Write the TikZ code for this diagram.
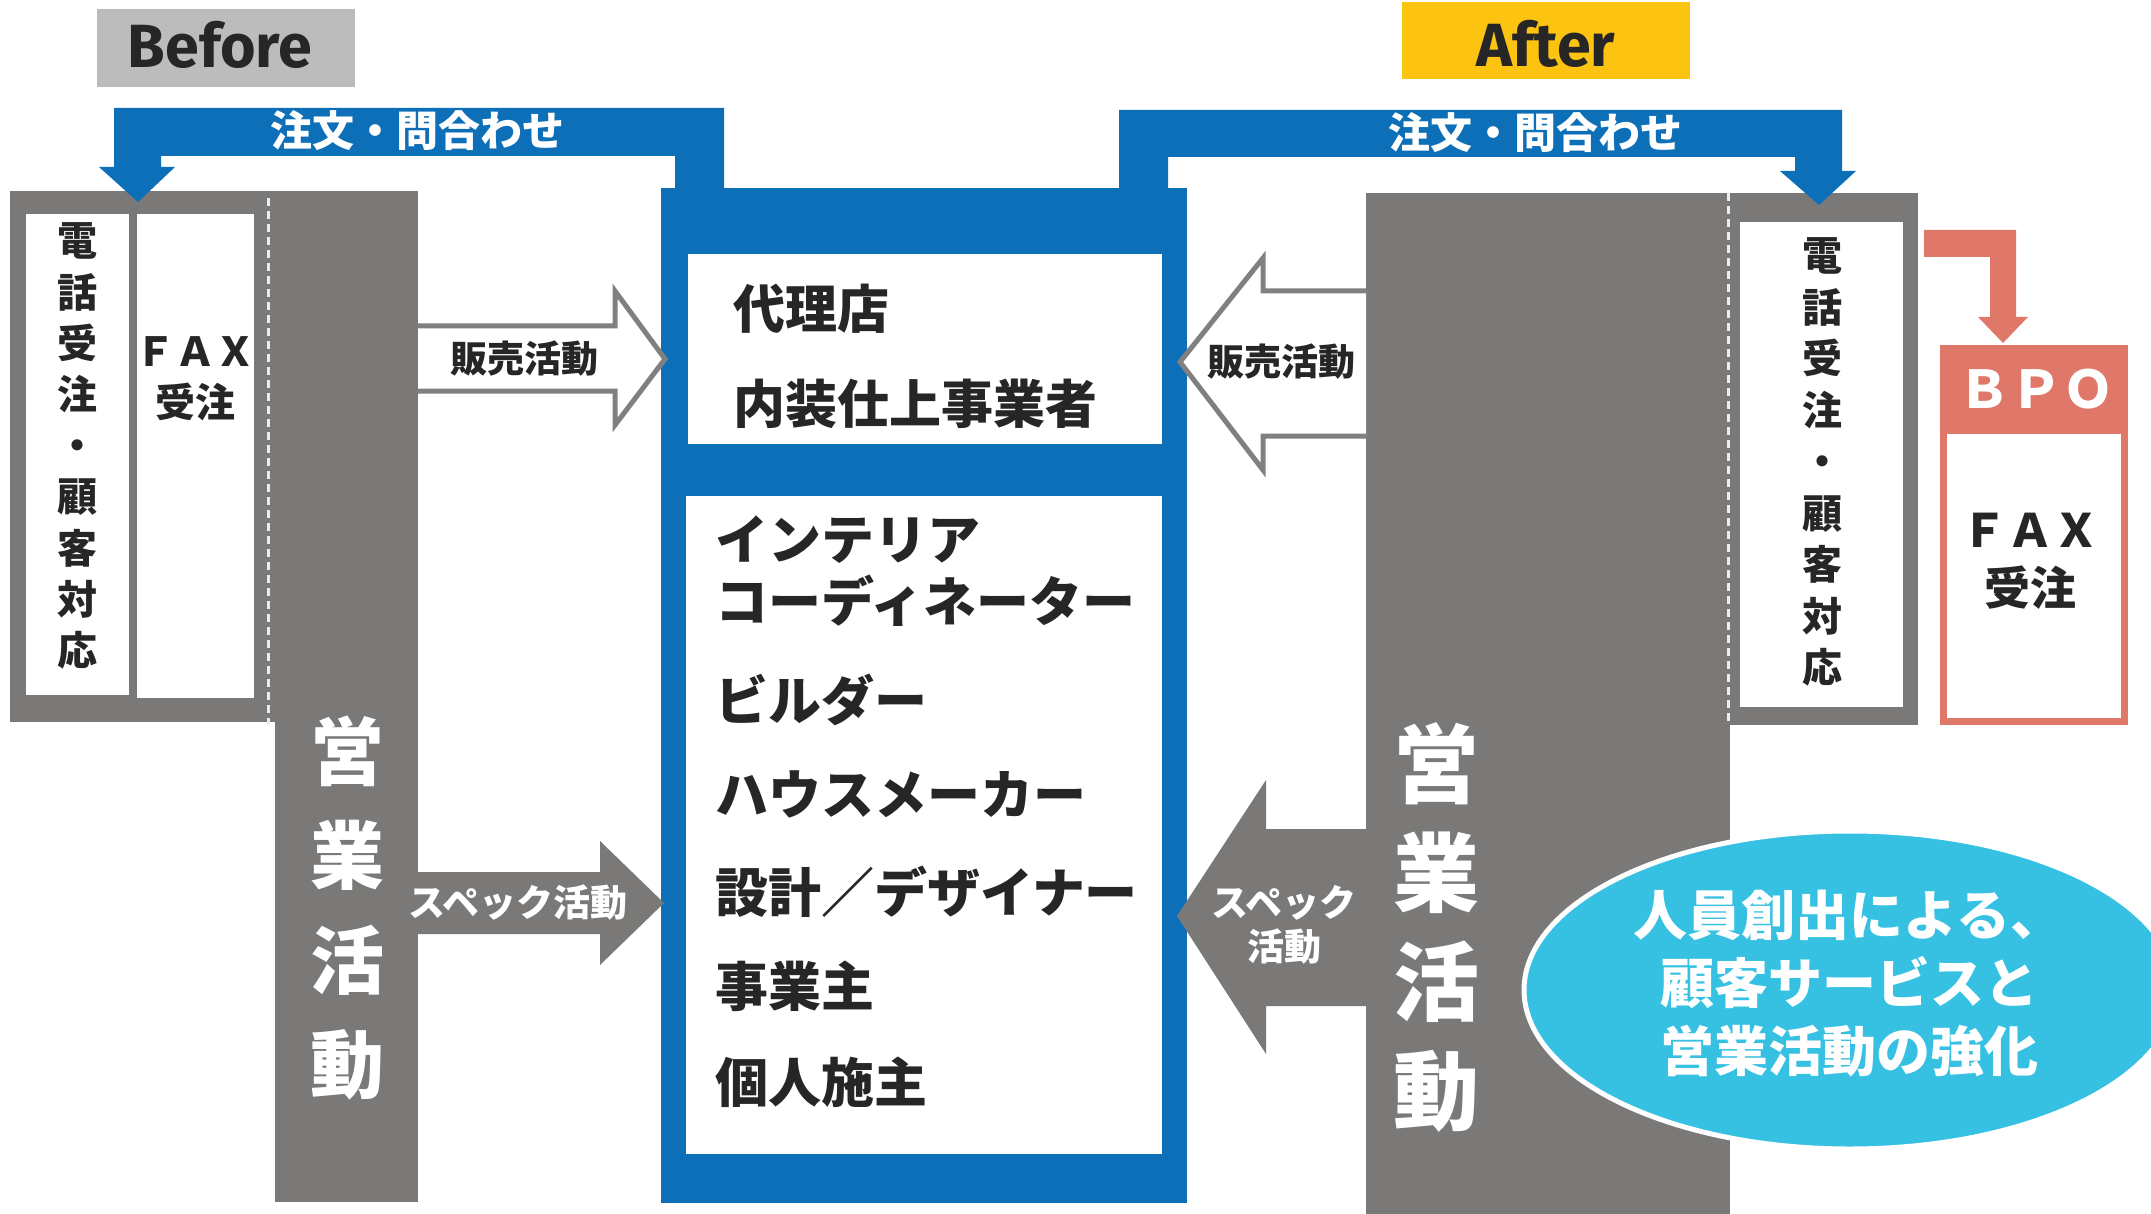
\documentclass[tikz,border=0pt]{standalone}
\usepackage{fontspec}
\newfontfamily\jp{Noto Sans CJK JP}[BoldFont={Noto Sans CJK JP Black}]
\newfontfamily\lat{Fira Sans}
\usetikzlibrary{shapes.geometric,fit}
\definecolor{cblue}{HTML}{0D6FB8}
\definecolor{cgray}{HTML}{7A7978}
\definecolor{cline}{HTML}{808080}
\definecolor{csalmon}{HTML}{E0786A}
\definecolor{ccyan}{HTML}{36C1E3}
\definecolor{cyellow}{HTML}{FDC311}
\definecolor{clight}{HTML}{BBBCBB}
\definecolor{cdark}{HTML}{262626}
\newcommand\jpfs[2]{\jp\bfseries\fontsize{#1}{#2}\selectfont}
\tikzset{
  box/.style={rectangle, inner sep=0, outer sep=0, draw=none},
  txt/.style={inner sep=0, outer sep=0},
  dkt/.style={txt, text=cdark},
  wht/.style={txt, text=white},
  sep/.style={draw=white!85!gray, line width=3, dash pattern=on 8 off 5},
  outarrow/.style={draw=cline, line width=5, fill=white, line join=miter},
}
\begin{document}
\begin{tikzpicture}[x=1pt,y=-1pt]
\useasboundingbox (0,0) rectangle (2151,1214);

% ---------- header labels
\node[box, fill=clight, fit={(97,9) (355,87)}] (beforebox) {};
\node[dkt, font={\lat\bfseries\fontsize{61}{61}\selectfont}] (beforetxt) at (220,45) {Before};
\node[box, fill=cyellow, fit={(1402,2) (1690,79)}] (afterbox) {};
\node[dkt, font={\lat\bfseries\fontsize{61}{61}\selectfont}] (aftertxt) at (1546,44) {After};

% ---------- central hub
\node[box, fill=cblue, fit={(661,188) (1187,1203)}] (hub) {};
\node[box, fill=white, fit={(688,254) (1162,444)}] (upper) {};
\node[box, fill=white, fit={(686,496) (1162,1154)}] (lower) {};
\node[dkt, anchor=west, font=\jpfs{52}{52}] (t1) at (733,309) {代理店};
\node[dkt, anchor=west, font=\jpfs{52}{52}] (t2) at (733,404) {内装仕上事業者};
\node[dkt, anchor=west, font=\jpfs{53}{53}] (c1) at (715,540) {インテリア};
\node[dkt, anchor=west, font=\jpfs{53}{53}] (c2) at (715,601) {コーディネーター};
\node[dkt, anchor=west, font=\jpfs{53}{53}] (c3) at (715,700) {ビルダー};
\node[dkt, anchor=west, font=\jpfs{53}{53}] (c4) at (715,794) {ハウスメーカー};
\node[dkt, anchor=west, font=\jpfs{53}{53}] (c5) at (715,892) {設計／デザイナー};
\node[dkt, anchor=west, font=\jpfs{53}{53}] (c6) at (715,986) {事業主};
\node[dkt, anchor=west, font=\jpfs{53}{53}] (c7) at (715,1082) {個人施主};

% ---------- Before side
\node[box, fill=cgray, fit={(10,191) (276,722)}] (lcall) {};
\node[box, fill=cgray, fit={(275,191) (418,1202)}] (lsales) {};
\draw[sep] (268,198) -- (268,725);
\node[box, fill=white, fit={(26,214) (129,695)}] (lphone) {};
\node[box, fill=white, fit={(137,214) (254,698)}] (lfax) {};
\node[dkt, align=center, font=\jpfs{40}{51.2}] (lphonet) at (77,446) {電\\話\\受\\注\\・\\顧\\客\\対\\応};
\node[dkt, align=center, font=\jpfs{40}{51}] (lfaxt) at (195,379) {ＦＡＸ\\受注};
\node[wht, align=center, font=\jpfs{74}{104.3}] (lsalest) at (347,908) {営\\業\\活\\動};

% Before arrows
\draw[outarrow] (lsales.east |- 0,326) -- (615,326) -- (615,291) -- (665,359) -- (615,425) -- (615,391) -- (lsales.east |- 0,391);
\node[dkt, font=\jpfs{37}{37}] (lsell) at (524,359) {販売活動};
\fill[cgray] (lsales.east |- 0,872) -- (600,872) -- (600,841) -- (664,903) -- (600,965) -- (600,934) -- (lsales.east |- 0,934) -- cycle;
\node[wht, font=\jpfs{37}{37}] (lspec) at (518,903) {スペック活動};

% Before order arrow (hub -> lcall)
\fill[cblue] (675,188) -- (675,156) -- (161,156) -- (161,167) -- (175,167) -- (138,202) -- (99,167) -- (114,167) -- (114,108) -- (724,108) -- (724,188) -- cycle;
\node[wht, font=\jpfs{42}{42}] (lorder) at (417,131) {注文・問合わせ};

% ---------- After side
\node[box, fill=cgray, fit={(1366,193) (1918,725)}] (rcall) {};
\node[box, fill=cgray, fit={(1366,193) (1730,1214)}] (rsales) {};
\draw[sep] (1728,193) -- (1728,722);
\node[box, fill=white, fit={(1740,222) (1903,707)}] (rphone) {};
\node[dkt, align=center, font=\jpfs{40}{51.5}] (rphonet) at (1822,462) {電\\話\\受\\注\\・\\顧\\客\\対\\応};
\node[wht, align=center, font=\jpfs{86}{109}] (rsalest) at (1436,927) {営\\業\\活\\動};

% After arrows
\draw[outarrow] (rsales.west |- 0,291) -- (1263,291) -- (1263,258) -- (1180,362) -- (1263,470) -- (1263,436) -- (rsales.west |- 0,436);
\node[dkt, font=\jpfs{37}{37}] (rsell) at (1281,362) {販売活動};
\fill[cgray] (rsales.west |- 0,829) -- (1266,829) -- (1266,780) -- (1177,916) -- (1266,1054) -- (1266,1006) -- (rsales.west |- 0,1006) -- cycle;
\node[wht, align=center, font=\jpfs{37}{44}] (rspec) at (1284,925) {スペック\\活動};

% After order arrow (hub -> rcall)
\fill[cblue] (1119,188) -- (1119,110) -- (1842,110) -- (1842,171) -- (1856,171) -- (1819,205) -- (1780,171) -- (1795,171) -- (1795,157) -- (1168,157) -- (1168,188) -- cycle;
\node[wht, font=\jpfs{42}{42}] (rorder) at (1535,133) {注文・問合わせ};

% ---------- BPO
\node[box, fill=white, draw=csalmon, line width=7, fit={(1943.5,348.5) (2124.5,721.5)}] (bpo) {};
\node[box, fill=csalmon, fit={(1940,345) (2128,434)}] (bpohead) {};
\node[wht, font=\jpfs{52}{52}] (bpot) at (2036,389) {ＢＰＯ};
\node[dkt, align=center, font=\jpfs{46}{58}] (bpofax) at (2030,561) {ＦＡＸ\\受注};
\fill[csalmon] (1924,230) -- (2016,230) -- (2016,317) -- (2028,317) -- (2003,343) -- (1978,317) -- (1990,317) -- (1990,257) -- (1924,257) -- cycle;

% ---------- ellipse
\node[ellipse, fill=ccyan, draw=white, line width=5, minimum width=652, minimum height=318, inner sep=0] (ell) at (1850,990) {};
\node[wht, align=center, font=\jpfs{54}{68}] (ellt) at (1849,984) {人員創出による、\\顧客サービスと\\営業活動の強化};
\end{tikzpicture}
\end{document}
